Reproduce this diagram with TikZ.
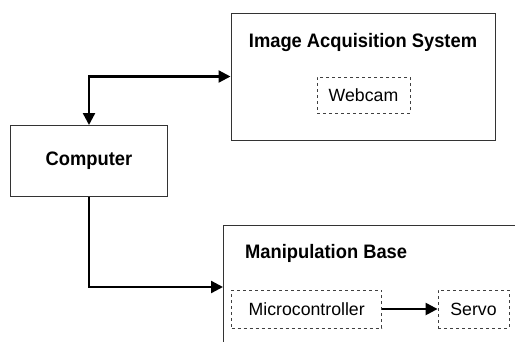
\documentclass[tikz,border=0pt]{standalone}
\usepackage{fontspec}
\setmainfont{Liberation Sans}
\newfontfamily\headfont{Liberation Sans}[FakeStretch=0.94]
\usetikzlibrary{arrows.meta, positioning, calc}

\begin{document}
\begin{tikzpicture}[
  x=1pt, y=-1pt,
  block/.style={rectangle, draw=black!80, line width=1pt, inner sep=0pt},
  dashbox/.style={rectangle, draw=black!75, dashed, line width=0.8pt,
    inner sep=0pt, font=\fontsize{17.7}{20}\selectfont},
  heading/.style={font=\headfont\fontsize{19.5}{22}\selectfont\bfseries, inner sep=0pt},
  link/.style={draw, line width=2.3pt, -{Triangle[length=12pt, width=12pt]}}
]
\path[use as bounding box, clip] (0,0) rectangle (515,341);

% blocks
\node[block, minimum width=264pt, minimum height=127pt] (ias) at (363,76.5) {};
\node[heading] (iastitle) at (363,42) {Image Acquisition System};
\node[dashbox, minimum width=93pt, minimum height=36pt] (webcam) at (363.5,95) {Webcam};

\node[block, minimum width=157pt, minimum height=71pt,
  font=\headfont\fontsize{19.5}{22}\selectfont\bfseries] (comp) at (89,161) {Computer};

\node[block, minimum width=320pt, minimum height=122.6pt] (manip) at (383.5,287) {};
\node[heading, anchor=west] (maniptitle) at (245,253) {Manipulation Base};
\node[dashbox, minimum width=150pt, minimum height=38pt] (micro) at (306.7,309) {Microcontroller};
\node[dashbox, minimum width=71pt, minimum height=38pt] (servo) at (473.5,309) {Servo};

% connectors
\draw[link, {Triangle[length=12pt, width=12pt]}-{Triangle[length=12pt, width=12pt]}]
  (comp.north) |- (ias.west);
\draw[link] (comp.south) |- (manip.west);
\draw[link] (micro) -- (servo);

\end{tikzpicture}
\end{document}
